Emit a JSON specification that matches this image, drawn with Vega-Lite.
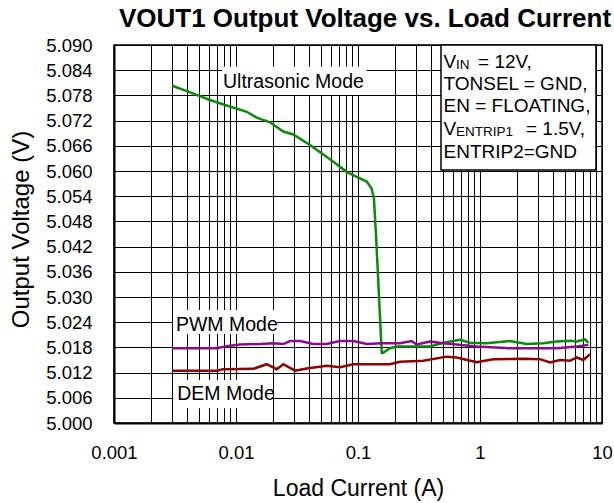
{
  "$schema": "https://vega.github.io/schema/vega-lite/v6.json",
  "width": 488,
  "height": 378,
  "autosize": {"type": "none"},
  "padding": {"left": 114, "top": 45, "right": 12, "bottom": 80},
  "background": "white",
  "title": {"text": "VOUT1 Output Voltage vs. Load Current", "font": "Liberation Sans", "fontSize": 26, "fontWeight": "bold", "color": "black", "anchor": "middle", "dx": 7, "dy": 29, "offset": 12, "baseline": "alphabetic"},
  "config": {
    "view": {"stroke": "black", "strokeWidth": 1.5},
    "font": "Liberation Sans",
    "axis": {
      "grid": true, "gridColor": "black", "gridWidth": 1, "gridOpacity": 1,
      "ticks": false, "tickSize": 0,
      "domain": true, "domainColor": "black", "domainWidth": 2,
      "labelFont": "Liberation Sans", "labelFontSize": 18.5, "labelColor": "black",
      "labelOverlap": false, "labelFlush": false, "labelBound": false,
      "titleFont": "Liberation Sans", "titleFontWeight": "normal", "titleColor": "black"
    }
  },
  "datasets": {
    "curves": [
      {"mode": "Ultrasonic", "current": 0.003, "voltage": 5.0803},
      {"mode": "Ultrasonic", "current": 0.00406, "voltage": 5.0789},
      {"mode": "Ultrasonic", "current": 0.00612, "voltage": 5.0769},
      {"mode": "Ultrasonic", "current": 0.00813, "voltage": 5.0757},
      {"mode": "Ultrasonic", "current": 0.01225, "voltage": 5.0741},
      {"mode": "Ultrasonic", "current": 0.0148, "voltage": 5.0727},
      {"mode": "Ultrasonic", "current": 0.019, "voltage": 5.0716},
      {"mode": "Ultrasonic", "current": 0.0244, "voltage": 5.0694},
      {"mode": "Ultrasonic", "current": 0.0295, "voltage": 5.0687},
      {"mode": "Ultrasonic", "current": 0.0404, "voltage": 5.0662},
      {"mode": "Ultrasonic", "current": 0.0628, "voltage": 5.0622},
      {"mode": "Ultrasonic", "current": 0.0808, "voltage": 5.0598},
      {"mode": "Ultrasonic", "current": 0.0975, "voltage": 5.0586},
      {"mode": "Ultrasonic", "current": 0.118, "voltage": 5.0575},
      {"mode": "Ultrasonic", "current": 0.129, "voltage": 5.0559},
      {"mode": "Ultrasonic", "current": 0.135, "voltage": 5.0535},
      {"mode": "Ultrasonic", "current": 0.1405, "voltage": 5.0448},
      {"mode": "Ultrasonic", "current": 0.1565, "voltage": 5.0167},
      {"mode": "Ultrasonic", "current": 0.1611, "voltage": 5.0167},
      {"mode": "Ultrasonic", "current": 0.1829, "voltage": 5.0178},
      {"mode": "Ultrasonic", "current": 0.2076, "voltage": 5.0182},
      {"mode": "Ultrasonic", "current": 0.3891, "voltage": 5.0182},
      {"mode": "Ultrasonic", "current": 0.5003, "voltage": 5.0191},
      {"mode": "Ultrasonic", "current": 0.6855, "voltage": 5.0198},
      {"mode": "Ultrasonic", "current": 0.8281, "voltage": 5.0191},
      {"mode": "Ultrasonic", "current": 1.135, "voltage": 5.019},
      {"mode": "Ultrasonic", "current": 1.762, "voltage": 5.0195},
      {"mode": "Ultrasonic", "current": 2.414, "voltage": 5.0188},
      {"mode": "Ultrasonic", "current": 3.304, "voltage": 5.019},
      {"mode": "Ultrasonic", "current": 4.256, "voltage": 5.0194},
      {"mode": "Ultrasonic", "current": 5.47, "voltage": 5.0196},
      {"mode": "Ultrasonic", "current": 6.208, "voltage": 5.0194},
      {"mode": "Ultrasonic", "current": 7.261, "voltage": 5.0199},
      {"mode": "Ultrasonic", "current": 7.727, "voltage": 5.0191},
      {"mode": "PWM", "current": 0.003, "voltage": 5.0178},
      {"mode": "PWM", "current": 0.00695, "voltage": 5.0178},
      {"mode": "PWM", "current": 0.00839, "voltage": 5.0183},
      {"mode": "PWM", "current": 0.01079, "voltage": 5.0187},
      {"mode": "PWM", "current": 0.01573, "voltage": 5.0188},
      {"mode": "PWM", "current": 0.02022, "voltage": 5.019},
      {"mode": "PWM", "current": 0.02442, "voltage": 5.0188},
      {"mode": "PWM", "current": 0.02773, "voltage": 5.0195},
      {"mode": "PWM", "current": 0.03347, "voltage": 5.0195},
      {"mode": "PWM", "current": 0.04304, "voltage": 5.0188},
      {"mode": "PWM", "current": 0.05534, "voltage": 5.0188},
      {"mode": "PWM", "current": 0.07117, "voltage": 5.0195},
      {"mode": "PWM", "current": 0.0915, "voltage": 5.0195},
      {"mode": "PWM", "current": 0.1178, "voltage": 5.0188},
      {"mode": "PWM", "current": 0.1565, "voltage": 5.019},
      {"mode": "PWM", "current": 0.2208, "voltage": 5.019},
      {"mode": "PWM", "current": 0.2754, "voltage": 5.0195},
      {"mode": "PWM", "current": 0.3027, "voltage": 5.0187},
      {"mode": "PWM", "current": 0.3891, "voltage": 5.0194},
      {"mode": "PWM", "current": 0.5003, "voltage": 5.019},
      {"mode": "PWM", "current": 0.9398, "voltage": 5.0182},
      {"mode": "PWM", "current": 1.762, "voltage": 5.0178},
      {"mode": "PWM", "current": 4.256, "voltage": 5.0178},
      {"mode": "PWM", "current": 6.208, "voltage": 5.0182},
      {"mode": "PWM", "current": 7.727, "voltage": 5.0186},
      {"mode": "DEM", "current": 0.003, "voltage": 5.01245},
      {"mode": "DEM", "current": 0.00695, "voltage": 5.01245},
      {"mode": "DEM", "current": 0.00782, "voltage": 5.0128},
      {"mode": "DEM", "current": 0.01387, "voltage": 5.0129},
      {"mode": "DEM", "current": 0.01786, "voltage": 5.014},
      {"mode": "DEM", "current": 0.02157, "voltage": 5.0128},
      {"mode": "DEM", "current": 0.02442, "voltage": 5.014},
      {"mode": "DEM", "current": 0.03046, "voltage": 5.01245},
      {"mode": "DEM", "current": 0.038, "voltage": 5.013},
      {"mode": "DEM", "current": 0.05534, "voltage": 5.0136},
      {"mode": "DEM", "current": 0.07117, "voltage": 5.0133},
      {"mode": "DEM", "current": 0.0915, "voltage": 5.014},
      {"mode": "DEM", "current": 0.1611, "voltage": 5.014},
      {"mode": "DEM", "current": 0.1829, "voltage": 5.014},
      {"mode": "DEM", "current": 0.2208, "voltage": 5.0146},
      {"mode": "DEM", "current": 0.343, "voltage": 5.0148},
      {"mode": "DEM", "current": 0.5329, "voltage": 5.0158},
      {"mode": "DEM", "current": 0.6442, "voltage": 5.0156},
      {"mode": "DEM", "current": 0.9398, "voltage": 5.01445},
      {"mode": "DEM", "current": 1.285, "voltage": 5.0152},
      {"mode": "DEM", "current": 2.265, "voltage": 5.0153},
      {"mode": "DEM", "current": 3.102, "voltage": 5.0152},
      {"mode": "DEM", "current": 3.749, "voltage": 5.0144},
      {"mode": "DEM", "current": 4.529, "voltage": 5.015},
      {"mode": "DEM", "current": 5.47, "voltage": 5.0148},
      {"mode": "DEM", "current": 6.208, "voltage": 5.0156},
      {"mode": "DEM", "current": 7.035, "voltage": 5.015},
      {"mode": "DEM", "current": 7.98, "voltage": 5.0164}
    ],
    "labelboxes": [
      {"current": 0.00763, "current2": 0.1178, "voltage": 5.0781, "voltage2": 5.0848},
      {"current": 0.00306, "current2": 0.02157, "voltage": 5.0212, "voltage2": 5.0269},
      {"current": 0.00307, "current2": 0.0196, "voltage": 5.0035, "voltage2": 5.01024}
    ],
    "notebox": [
      {"current": 0.479, "current2": 8.93, "voltage": 5.06024, "voltage2": 5.09}
    ],
    "labels": [
      {"text": "Ultrasonic Mode", "current": 0.00782, "voltage": 5.07969},
      {"text": "PWM Mode", "current": 0.00322, "voltage": 5.02198},
      {"text": "DEM Mode", "current": 0.0033, "voltage": 5.00548}
    ],
    "notes": [
      {"text": "V", "current": 0.502, "voltage": 5.08445},
      {"text": "= 12V,", "current": 0.964, "voltage": 5.08445},
      {"text": "TONSEL = GND,", "current": 0.502, "voltage": 5.07929},
      {"text": "EN = FLOATING,", "current": 0.502, "voltage": 5.07393},
      {"text": "V", "current": 0.502, "voltage": 5.06857},
      {"text": "= 1.5V,", "current": 2.38, "voltage": 5.06857},
      {"text": "ENTRIP2=GND", "current": 0.502, "voltage": 5.0631}
    ],
    "subs": [
      {"text": "IN", "current": 0.635, "voltage": 5.08421},
      {"text": "ENTRIP1", "current": 0.635, "voltage": 5.06833}
    ]
  },
  "layer": [
    {
      "data": {"name": "labelboxes"},
      "mark": {"type": "rect", "fill": "white", "stroke": null},
      "encoding": {
        "x": {
          "field": "current", "type": "quantitative",
          "scale": {"type": "log", "domain": [0.001, 10]},
          "axis": {
            "title": "Load Current (A)",
            "values": [0.001, 0.002, 0.003, 0.004, 0.005, 0.006, 0.007, 0.008, 0.009, 0.01, 0.02, 0.03, 0.04, 0.05, 0.06, 0.07, 0.08, 0.09, 0.1, 0.2, 0.3, 0.4, 0.5, 0.6, 0.7, 0.8, 0.9, 1, 2, 3, 4, 5, 6, 7, 8, 9, 10],
            "tickCount": 50,
            "labelExpr": "indexof(['0.001','0.01','0.1','1','10'], format(datum.value, '~g')) >= 0 ? format(datum.value, '~g') : ''",
            "labelPadding": 35, "labelBaseline": "alphabetic", "labelOverlap": false,
            "titleFontSize": 23,
            "titleX": 244, "titleY": 72, "titleBaseline": "alphabetic", "titleAlign": "center"
          }
        },
        "x2": {"field": "current2"},
        "y": {
          "field": "voltage", "type": "quantitative",
          "scale": {"domain": [5.0, 5.09], "zero": false, "nice": false},
          "axis": {
            "title": "Output Voltage (V)",
            "values": [5.0, 5.006, 5.012, 5.018, 5.024, 5.03, 5.036, 5.042, 5.048, 5.054, 5.06, 5.066, 5.072, 5.078, 5.084, 5.09],
            "tickCount": 20,
            "format": ".3f",
            "labelPadding": 22, "labelBaseline": "middle", "labelOverlap": false,
            "titleFontSize": 24,
            "titleX": -86, "titleY": 184, "titleAngle": -90, "titleBaseline": "alphabetic", "titleAlign": "center"
          }
        },
        "y2": {"field": "voltage2"}
      }
    },
    {
      "data": {"name": "notebox"},
      "mark": {"type": "rect", "fill": "white", "stroke": "black", "strokeWidth": 1.5},
      "encoding": {
        "x": {"field": "current", "type": "quantitative"},
        "x2": {"field": "current2"},
        "y": {"field": "voltage", "type": "quantitative"},
        "y2": {"field": "voltage2"}
      }
    },
    {
      "data": {"name": "curves"},
      "mark": {"type": "line", "strokeWidth": 2.5},
      "encoding": {
        "x": {"field": "current", "type": "quantitative"},
        "y": {"field": "voltage", "type": "quantitative"},
        "color": {"field": "mode", "type": "nominal", "scale": {"domain": ["Ultrasonic", "PWM", "DEM"], "range": ["#0a8a0a", "#8b0a8b", "#8b0000"]}, "legend": null}
      }
    },
    {
      "data": {"name": "labels"},
      "mark": {"type": "text", "font": "Liberation Sans", "fontSize": 19.5, "align": "left", "baseline": "alphabetic", "color": "black"},
      "encoding": {
        "x": {"field": "current", "type": "quantitative"},
        "y": {"field": "voltage", "type": "quantitative"},
        "text": {"field": "text"}
      }
    },
    {
      "data": {"name": "notes"},
      "mark": {"type": "text", "font": "Liberation Sans", "fontSize": 19, "align": "left", "baseline": "alphabetic", "color": "black"},
      "encoding": {
        "x": {"field": "current", "type": "quantitative"},
        "y": {"field": "voltage", "type": "quantitative"},
        "text": {"field": "text"}
      }
    },
    {
      "data": {"name": "subs"},
      "mark": {"type": "text", "font": "Liberation Sans", "fontSize": 13.5, "align": "left", "baseline": "alphabetic", "color": "black"},
      "encoding": {
        "x": {"field": "current", "type": "quantitative"},
        "y": {"field": "voltage", "type": "quantitative"},
        "text": {"field": "text"}
      }
    }
  ]
}
